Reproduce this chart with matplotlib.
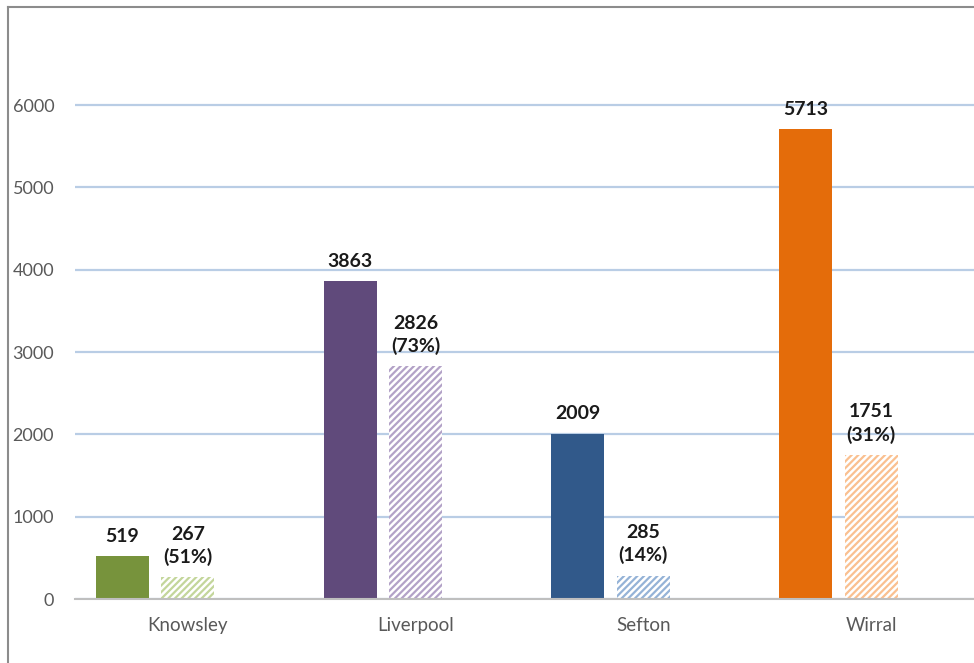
import numpy as np
import matplotlib
matplotlib.use("Agg")
import matplotlib.pyplot as plt
from matplotlib.lines import Line2D

plt.rcParams['font.family'] = ['Lato', 'DejaVu Sans']
plt.rcParams['hatch.linewidth'] = 1.6

# Данные
areas = ['Knowsley', 'Liverpool', 'Sefton', 'Wirral']
totals = [519, 3863, 2009, 5713]
subset = [267, 2826, 285, 1751]
subset_pct = [51, 73, 14, 31]

solid_colors = ['#77933C', '#604A7B', '#31598A', '#E46C0A']
hatch_colors = ['#C3D69B', '#B3A2C7', '#95B3D7', '#FAC090']

W, H = 974, 663
fig = plt.figure(figsize=(W / 100, H / 100), dpi=100)

# область графика (в пикселях: слева 75, низ 599, верх ~23)
ax = fig.add_axes([75 / W, (H - 599) / H, (W - 75) / W, (599 - 22.7) / H])

x = np.arange(len(areas))
step = 0.288
width = 0.233

for i in range(len(areas)):
    ax.bar(x[i] - step, totals[i], width, color=solid_colors[i], zorder=3)
    ax.bar(x[i], subset[i], width, facecolor='white', edgecolor=hatch_colors[i],
           hatch='/////', linewidth=0, zorder=3)

    ax.annotate(str(totals[i]), (x[i] - step, totals[i]), xytext=(0, 8),
                textcoords='offset points', ha='center', va='bottom',
                fontsize=14, fontweight='bold', color='#1a1a1a', zorder=4)
    ax.annotate(f'{subset[i]}\n({subset_pct[i]}%)', (x[i], subset[i]), xytext=(0, 8),
                textcoords='offset points', ha='center', va='bottom',
                fontsize=14, fontweight='bold', color='#1a1a1a',
                linespacing=1.35, zorder=4)

ax.set_xlim(-0.496, 3.452)
ax.set_ylim(0, 7000)
ax.set_yticks(range(0, 7000, 1000))
ax.set_xticks(x)
ax.set_xticklabels(areas)

ax.yaxis.grid(True, color='#B9CDE5', linewidth=1.6, zorder=0)
ax.set_axisbelow(True)

for s in ['top', 'right', 'left']:
    ax.spines[s].set_visible(False)
ax.spines['bottom'].set_color('#BFBFBF')
ax.spines['bottom'].set_linewidth(1.5)
ax.spines['bottom'].set_zorder(5)

ax.tick_params(axis='both', length=0, colors='#595959')
ax.tick_params(axis='y', pad=15, labelsize=13)
ax.tick_params(axis='x', pad=13, labelsize=13.5)

# рамка диаграммы (обрезана справа и снизу)
fig.add_artist(Line2D([8 / W, 8 / W], [0, 1 - 7 / H], color='#8C8C8C', linewidth=1.5))
fig.add_artist(Line2D([8 / W, 1], [1 - 7 / H, 1 - 7 / H], color='#8C8C8C', linewidth=1.5))

fig.savefig('out.png', dpi=100, facecolor='white')
